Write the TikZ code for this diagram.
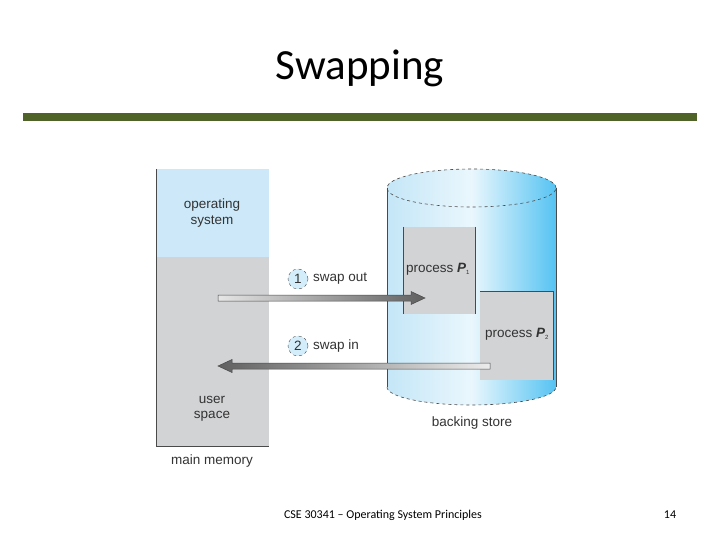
\documentclass[tikz,border=0pt]{standalone}
\usepackage{fontspec}
\setmainfont{Liberation Sans}
\newfontfamily\slidefont{Carlito}
\usetikzlibrary{calc}
\definecolor{osblue}{HTML}{CDE9F9}
\definecolor{memgray}{HTML}{D2D3D5}
\definecolor{barolive}{HTML}{4F6228}
\definecolor{edgegray}{HTML}{4A4A4A}
\definecolor{txtgray}{HTML}{333333}
\definecolor{cylleft}{HTML}{C4E6F7}
\definecolor{cylmid}{HTML}{EAF7FD}
\definecolor{cylright}{HTML}{55C3F2}
\definecolor{numblue}{HTML}{D3EDFA}
\tikzset{
  lbl/.style={font=\fontsize{13.5}{15.5}\selectfont, text=txtgray, align=center, inner sep=0pt},
  procbox/.style={fill=memgray, minimum width=72pt, minimum height=87pt, inner sep=0pt, draw=none},
  numcirc/.style={circle, draw=edgegray, dashed, fill=numblue, minimum size=20pt, inner sep=0pt, font=\fontsize{13.5}{15}\selectfont, text=txtgray},
  cylshade/.style={left color=cylleft, right color=cylright, middle color=cylmid},
  barout/.style={draw=edgegray, line width=0.5pt, left color=gray!20, right color=gray!75!black},
  barin/.style={draw=edgegray, line width=0.5pt, left color=gray!75!black, right color=gray!15}
}
\begin{document}
\begin{tikzpicture}[x=1pt,y=-1pt]
\useasboundingbox[fill=white] (0,0) rectangle (720,540);
% title
\node[font=\slidefont\fontsize{43}{48}\selectfont] (title) at (360,68) {Swapping};
\fill[barolive] (23,113) rectangle (697,121);
% main memory
\node[fill=osblue, minimum width=113pt, minimum height=88pt, inner sep=0pt, anchor=north west] (os) at (156,169) {};
\node[fill=memgray, minimum width=113pt, minimum height=189pt, inner sep=0pt, anchor=north west] (user) at (156,257) {};
\draw[edgegray, line width=0.8pt] (os.north west) -- (user.south west) -- (user.south east);
\node[lbl] (ostext) at (212,213) {operating\\system};
\node[lbl] (ustext) at (212,409) {user\\space};
\node[lbl] (mm) at (212,461) {main memory};
% backing store cylinder
\shade[cylshade]
  (387,188) -- (387,387) arc[start angle=180, end angle=360, x radius=84.5pt, y radius=18pt] -- (556,188)
  arc[start angle=0, end angle=180, x radius=84.5pt, y radius=19pt] -- cycle;
\shade[cylshade] (471.5,188) ellipse[x radius=84.5pt, y radius=19pt];
\draw[edgegray, line width=0.6pt] (387,188) -- (387,387) (556,188) -- (556,387);
\draw[edgegray, line width=0.6pt, dashed] (471.5,188) ellipse[x radius=84.5pt, y radius=19pt];
\draw[edgegray, line width=0.6pt, dashed] (387,387) arc[start angle=180, end angle=360, x radius=84.5pt, y radius=18pt];
\node[lbl] (bs) at (472,423) {backing store};
% process boxes
\node[procbox, anchor=north west] (p1) at (403,227) {};
\draw[edgegray, line width=0.6pt] (p1.north west) -- (p1.south west) (p1.north east) -- (p1.south east);
\node[lbl] at (438,269) {process \textit{\textbf{P}}\textsubscript{\fontsize{6}{6}\selectfont 1}};
\node[procbox, anchor=north west, minimum width=73pt, minimum height=89pt] (p2) at (480,291) {};
\draw[edgegray, line width=0.6pt] (p2.north west) -- (p2.north east) -- (p2.south east);
\node[lbl] at (517,334) {process \textit{\textbf{P}}\textsubscript{\fontsize{6}{6}\selectfont 2}};
% swap out arrow
\coordinate (o1) at (218,298);
\coordinate (o2) at (425,298);
\path[barout] ($(o1)+(0,-3)$) -- ($(o2)+(-14,-3)$) -- ($(o2)+(-14,-6.5)$) -- (o2) -- ($(o2)+(-14,6.5)$) -- ($(o2)+(-14,3)$) -- ($(o1)+(0,3)$) -- cycle;
% swap in arrow
\coordinate (i1) at (490,366);
\coordinate (i2) at (218,366);
\path[barin] ($(i1)+(0,-3)$) -- ($(i2)+(14,-3)$) -- ($(i2)+(14,-6.5)$) -- (i2) -- ($(i2)+(14,6.5)$) -- ($(i2)+(14,3)$) -- ($(i1)+(0,3)$) -- cycle;
% labels
\node[numcirc] (n1) at (298,279) {1};
\node[lbl, anchor=west] (so) at (313,279) {swap out};
\node[numcirc] (n2) at (298,346) {2};
\node[lbl, anchor=west] (si) at (313,346) {swap in};
% footer
\node[font=\slidefont\fontsize{12}{14}\selectfont] (foot) at (383,515) {CSE 30341 – Operating System Principles};
\node[font=\slidefont\fontsize{12}{14}\selectfont] (page) at (670,515) {14};
\end{tikzpicture}
\end{document}
